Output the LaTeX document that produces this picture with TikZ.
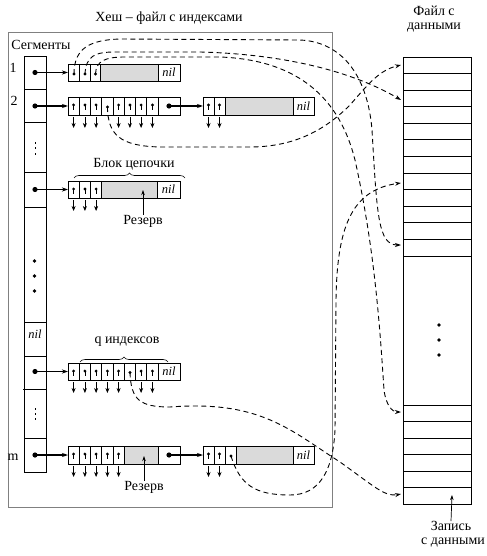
\documentclass[tikz,border=0pt]{standalone}
\usepackage{fontspec}
\setmainfont{Liberation Serif}
\usetikzlibrary{arrows.meta,decorations.pathreplacing}
\definecolor{lgray}{RGB}{218,218,218}
\definecolor{framegray}{RGB}{128,128,128}
\tikzset{
  cellline/.style={draw=black,line width=0.8bp},
  blk/.style={draw=black,line width=0.8bp,inner sep=0pt,outer sep=0pt,anchor=north west},
  ptrline/.style={line width=0.6bp,-{Stealth[length=5bp,width=4bp]}},
  link/.style={line width=1.1bp,-{Stealth[length=6bp,width=4bp]}},
  thinarrow/.style={line width=0.7bp,-{Stealth[length=5bp,width=3.5bp]}},
  dcurve/.style={line width=0.9bp,dash pattern=on 5bp off 3.5bp,-{Stealth[length=6bp,width=4bp]}},
  lbl/.style={font=\fontsize{14}{16}\selectfont,inner sep=0pt},
  nilt/.style={font=\fontsize{12.5}{14}\selectfont\itshape,inner sep=0pt},
  bracestyle/.style={decorate,decoration={brace,amplitude=5bp},line width=0.6bp},
}
\newcommand\pdn[3]{\fill (#1,#2+8) circle (1.6bp); \draw[line width=0.7bp] (#1,#2+8) -- (#1,#2+13); \draw[ptrline] (#1,#3+2) -- (#1,#3+13);}
\begin{document}
\begin{tikzpicture}[x=1bp,y=-1bp]
\useasboundingbox (0,0) rectangle (487,556);
% frame of index file
\draw[framegray,line width=1bp] (8,33) rectangle (332,507);
\node[lbl] (title) at (169,18) {Хеш – файл с индексами};
\node[lbl] (segs) at (41,45) {Сегменты};
\node[lbl] (n1) at (13,68) {1};
\node[lbl] (n2) at (14,101) {2};
\node[lbl] (nm) at (13,457) {m};
% segment column
\node[blk,minimum width=22bp,minimum height=416bp] (segcol) at (24,56) {};
\foreach \y in {89,122,172,207,322,356,438} \draw[cellline] (24,\y) -- (46,\y);
\draw[cellline] (23,389) -- (46,389);
\foreach \y in {142,147.5,153} \fill (35,\y) rectangle (35.8,\y+1.6);
\foreach \y in {408,413,418} \fill (35,\y) rectangle (35.8,\y+1.6);
\foreach \y in {261,276,291} \fill (34.5,\y) circle (1.8bp);
\node[nilt] (segnil) at (35,334) {nil};
% gray reserve areas
\fill[lgray] (100,64) rectangle (158,81);
\fill[lgray] (225,97) rectangle (293,115);
\fill[lgray] (101.75,181) rectangle (157,198);
\fill[lgray] (124.25,446) rectangle (158,464);
\fill[lgray] (236,446) rectangle (293,464);
% blocks
\node[blk,minimum width=112bp,minimum height=17bp] (b1) at (68,64) {};
\node[blk,minimum width=112bp,minimum height=18bp] (b2a) at (68,97) {};
\node[blk,minimum width=111bp,minimum height=18bp] (b2b) at (203,97) {};
\node[blk,minimum width=112bp,minimum height=17bp] (b3) at (68,181) {};
\node[blk,minimum width=112bp,minimum height=17bp] (b4) at (68,363) {};
\node[blk,minimum width=112bp,minimum height=18bp] (b5a) at (68,446) {};
\node[blk,minimum width=111bp,minimum height=18bp] (b5b) at (203,446) {};
% cell separators
\foreach \x in {79.25,90.5,100,158} \draw[cellline] (\x,64) -- (\x,81);
\foreach \x in {79.25,90.5,101.75,113,124.25,135.5,146.75,158} \draw[cellline] (\x,97) -- (\x,115);
\foreach \x in {214,225,293} \draw[cellline] (\x,97) -- (\x,115);
\foreach \x in {79.25,90.5,101.75,157} \draw[cellline] (\x,181) -- (\x,198);
\foreach \x in {79.25,90.5,101.75,113,124.25,135.5,146.75,158} \draw[cellline] (\x,363) -- (\x,380);
\foreach \x in {79.25,90.5,101.75,113,124.25,158} \draw[cellline] (\x,446) -- (\x,464);
\foreach \x in {214,225,236,293} \draw[cellline] (\x,446) -- (\x,464);
% nil labels
\node[nilt] (nil1) at (169,72.5) {nil};
\node[nilt] (nil2) at (303.5,106) {nil};
\node[nilt] (nil3) at (168.5,189.5) {nil};
\node[nilt] (nil4) at (169,371.5) {nil};
\node[nilt] (nil5) at (303.5,455) {nil};
% segment pointers
\coordinate (s1) at (35,72.5);
\coordinate (s2) at (35,106);
\coordinate (s3) at (35,189.5);
\coordinate (s4) at (35,371.5);
\coordinate (s5) at (35,455);
\foreach \c in {s1,s2,s3,s4,s5} \fill (\c) circle (2.6bp);
\draw[link] (s1) -- (s1 -| b1.west);
\draw[link] (s2) -- (s2 -| b2a.west);
\draw[link] (s3) -- (s3 -| b3.west);
\draw[link] (s4) -- (s4 -| b4.west);
\draw[link] (s5) -- (s5 -| b5a.west);
% block to block pointers
\coordinate (c2) at (169,106);
\coordinate (c5) at (169,455);
\fill (c2) circle (2.6bp);
\fill (c5) circle (2.6bp);
\draw[link] (c2) -- (c2 -| b2b.west);
\draw[link] (c5) -- (c5 -| b5b.west);
% downward index pointers
\foreach \x in {73.6,84.9,96.1,118.6,129.9,141.1,152.4} {\pdn{\x}{97}{115}}
\foreach \x in {208.5,219.5} {\pdn{\x}{97}{115}}
\foreach \x in {73.6,84.9,96.1} {\pdn{\x}{181}{198}}
\foreach \x in {73.6,84.9,96.1,107.4,118.6,141.1,152.4} {\pdn{\x}{363}{380}}
\foreach \x in {73.6,84.9,96.1,107.4,118.6} {\pdn{\x}{446}{464}}
\foreach \x in {208.5,219.5} {\pdn{\x}{446}{464}}
% data file
\node[blk,minimum width=68bp,minimum height=447bp] (df) at (403,57) {};
\foreach \k in {1,...,12} \draw[cellline] (403,57+16.58*\k) -- (471,57+16.58*\k);
\foreach \k in {0,...,5} \draw[cellline] (403,405+16.5*\k) -- (471,405+16.5*\k);
\foreach \y in {325,340,355} \fill (439,\y) circle (1.8bp);
\node[lbl] (dfl1) at (434,11) {Файл с};
\node[lbl] (dfl2) at (434,28) {данными};
\node[lbl] (rec1) at (451,526) {Запись};
\node[lbl] (rec2) at (453,543) {с данными};
\coordinate (rectgt) at (452,495);
\draw[thinarrow] (rec1.north) -- (rectgt);
% reserve labels
\node[lbl] (res1) at (143,221) {Резерв};
\coordinate (res1t) at (143,190);
\draw[thinarrow] (res1.north) -- (res1t);
\node[lbl] (res2) at (144,487) {Резерв};
\coordinate (res2t) at (144,456);
\draw[thinarrow] (res2.north) -- (res2t);
% braces
\coordinate (br1a) at (74,178);
\coordinate (br1b) at (185,178);
\draw[bracestyle] (br1a) -- (br1b);
\node[lbl] (chainl) at (134,164) {Блок цепочки};
\coordinate (br2a) at (80,362);
\coordinate (br2b) at (168,362);
\draw[bracestyle] (br2a) -- (br2b);
\node[lbl] (ql) at (127,342) {q индексов};
% pins of curved pointers
\coordinate (pA) at (74,74);
\coordinate (pB) at (85,74);
\coordinate (pC) at (95.5,74);
\coordinate (pF) at (107.4,107);
\coordinate (pE) at (130,372.5);
\coordinate (pD) at (231,456);
\foreach \c in {pA,pB,pC,pF,pE,pD} \fill (\c) circle (1.6bp);
\coordinate (rA) at (401,245);
\coordinate (rB) at (401,100);
\coordinate (rC) at (401,412);
\coordinate (rD) at (401,183);
\coordinate (rE) at (401,494);
\coordinate (rF) at (401,65);
% dashed curves
\draw[dcurve] (pA) .. controls (74,48) and (90,40) .. (120,39) -- (300,40)
  .. controls (345,42) and (368,80) .. (372,130)
  .. controls (377,215) and (378,245) .. (rA);
\draw[dcurve] (pB) .. controls (86,56) and (95,52) .. (115,52) -- (200,52)
  .. controls (280,54) and (350,70) .. (rB);
\draw[dcurve] (pC) .. controls (96,61) and (105,57) .. (125,57) -- (220,57)
  .. controls (300,60) and (340,100) .. (355,160)
  .. controls (375,250) and (380,330) .. (384,390)
  .. controls (386,405) and (392,412) .. (rC);
\draw[dcurve] (pF) .. controls (108,135) and (120,146) .. (160,147) -- (250,147)
  .. controls (300,147) and (330,125) .. (350,105)
  .. controls (370,82) and (380,70) .. (rF);
\draw[dcurve] (pE) .. controls (131,400) and (140,407) .. (170,407)
  .. controls (260,400) and (290,430) .. (340,462)
  .. controls (375,487) and (385,497) .. (rE);
\draw[dcurve] (pD) .. controls (240,485) and (255,495) .. (290,495)
  .. controls (320,495) and (333,470) .. (335,430) -- (336,300)
  .. controls (337,230) and (350,190) .. (rD);
\end{tikzpicture}
\end{document}
